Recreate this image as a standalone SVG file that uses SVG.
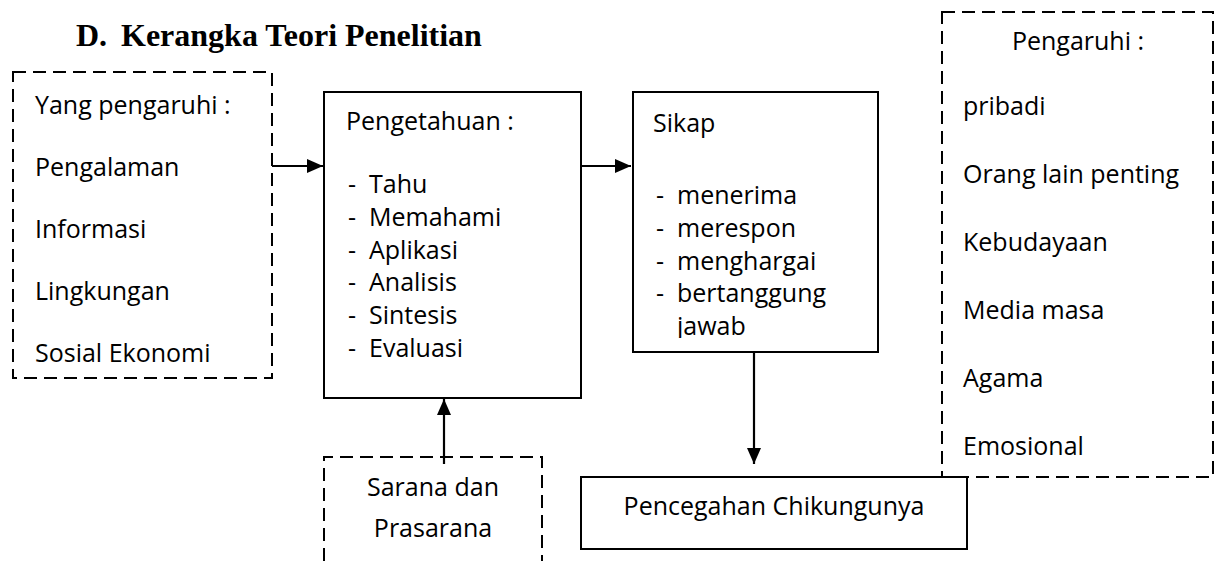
<svg xmlns="http://www.w3.org/2000/svg" width="1216" height="561" viewBox="0 0 1216 561">
<style>
  .t { font-family: "Open Sans", "Noto Sans", "Liberation Sans", sans-serif; font-size: 25px; fill: #000; }
  .title { font-family: "Liberation Serif", "Times New Roman", serif; font-size: 32px; font-weight: bold; fill: #000; }
  .solid { fill: #fff; stroke: #000; stroke-width: 2; }
  .dash { fill: none; stroke: #000; stroke-width: 2; stroke-dasharray: 13 7; }
  .conn { fill: none; stroke: #000; stroke-width: 2.2; marker-end: url(#arr); }
  .mid { text-anchor: middle; }
</style>
<defs>
  <marker id="arr" markerUnits="userSpaceOnUse" markerWidth="16" markerHeight="14" refX="16" refY="7" orient="auto">
    <path d="M0,0 L16,7 L0,14 z" fill="#000"/>
  </marker>
  <clipPath id="sikapClip"><rect x="633" y="93" width="244" height="245"/></clipPath>
</defs>
<rect width="1216" height="561" fill="#fff"/>

<g id="title">
  <text class="title" y="46"><tspan x="76">D.</tspan><tspan x="121">Kerangka Teori Penelitian</tspan></text>
</g>

<g id="faktor-kiri">
  <rect class="dash" x="13" y="72" width="259" height="306"/>
  <text class="t" x="35" y="114">Yang pengaruhi :</text>
  <text class="t" x="35" y="176">Pengalaman</text>
  <text class="t" x="35" y="238">Informasi</text>
  <text class="t" x="35" y="300">Lingkungan</text>
  <text class="t" x="35" y="362">Sosial Ekonomi</text>
</g>

<g id="pengetahuan">
  <rect class="solid" x="324" y="92" width="257" height="306"/>
  <text class="t" x="346" y="130">Pengetahuan :</text>
  <text class="t" y="193"><tspan x="348">-</tspan><tspan x="369">Tahu</tspan></text>
  <text class="t" y="226"><tspan x="348">-</tspan><tspan x="369">Memahami</tspan></text>
  <text class="t" y="259"><tspan x="348">-</tspan><tspan x="369">Aplikasi</tspan></text>
  <text class="t" y="291"><tspan x="348">-</tspan><tspan x="369">Analisis</tspan></text>
  <text class="t" y="324"><tspan x="348">-</tspan><tspan x="369">Sintesis</tspan></text>
  <text class="t" y="357"><tspan x="348">-</tspan><tspan x="369">Evaluasi</tspan></text>
</g>

<g id="sikap">
  <rect class="solid" x="633" y="92" width="245" height="260"/>
  <g clip-path="url(#sikapClip)">
    <text class="t" x="653" y="132">Sikap</text>
    <text class="t" y="204"><tspan x="656">-</tspan><tspan x="677">menerima</tspan></text>
    <text class="t" y="237"><tspan x="656">-</tspan><tspan x="677">merespon</tspan></text>
    <text class="t" y="270"><tspan x="656">-</tspan><tspan x="677">menghargai</tspan></text>
    <text class="t" y="302"><tspan x="656">-</tspan><tspan x="677">bertanggung</tspan></text>
    <text class="t" x="677" y="335">jawab</text>
  </g>
</g>

<g id="faktor-kanan">
  <rect class="dash" x="942" y="12" width="271" height="465"/>
  <text class="t mid" x="1078" y="50">Pengaruhi :</text>
  <text class="t" x="963" y="115">pribadi</text>
  <text class="t" x="963" y="183">Orang lain penting</text>
  <text class="t" x="963" y="251">Kebudayaan</text>
  <text class="t" x="963" y="319">Media masa</text>
  <text class="t" x="963" y="387">Agama</text>
  <text class="t" x="963" y="455">Emosional</text>
</g>

<g id="pencegahan">
  <rect class="solid" x="581" y="477" width="386" height="72"/>
  <text class="t mid" x="774" y="515">Pencegahan Chikungunya</text>
</g>

<g id="sarana">
  <path class="dash" d="M324,561 L324,457 L542,457 L542,561"/>
  <text class="t mid" x="433" y="496">Sarana dan</text>
  <text class="t mid" x="433" y="537">Prasarana</text>
</g>

<g id="connectors">
  <line class="conn" x1="272" y1="166" x2="323" y2="166"/>
  <line class="conn" x1="581" y1="166" x2="631" y2="166"/>
  <line class="conn" x1="754" y1="352" x2="754" y2="464"/>
  <line class="conn" x1="444" y1="464" x2="444" y2="399"/>
</g>
</svg>
